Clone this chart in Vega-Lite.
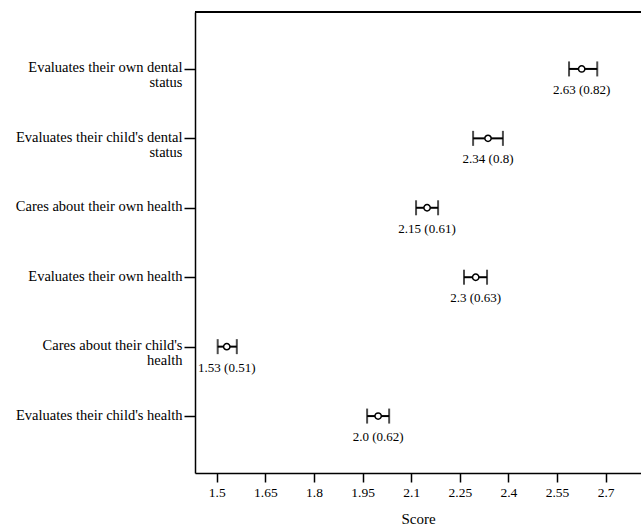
{
  "$schema": "https://vega.github.io/schema/vega-lite/v6.json",
  "width": 446,
  "height": 461,
  "autosize": {"type": "none"},
  "padding": {"left": 195, "top": 12, "right": 0, "bottom": 55},
  "background": "white",
  "config": {
    "view": {"stroke": null},
    "font": "Liberation Serif",
    "axis": {"labelFont": "Liberation Serif", "titleFont": "Liberation Serif", "labelColor": "black", "titleColor": "black", "domainColor": "black", "tickColor": "black", "grid": false}
  },
  "data": {
    "values": [
      {"item": "Evaluates their own dental|status", "mean": 2.626, "lo": 2.587, "hi": 2.674, "label": "2.63 (0.82)"},
      {"item": "Evaluates their child's dental|status", "mean": 2.337, "lo": 2.291, "hi": 2.383, "label": "2.34 (0.8)"},
      {"item": "Cares about their own  health", "mean": 2.149, "lo": 2.115, "hi": 2.183, "label": "2.15 (0.61)"},
      {"item": "Evaluates their own health", "mean": 2.299, "lo": 2.263, "hi": 2.334, "label": "2.3 (0.63)"},
      {"item": "Cares about their child's|health", "mean": 1.531, "lo": 1.503, "hi": 1.562, "label": "1.53 (0.51)"},
      {"item": "Evaluates their child's health", "mean": 1.998, "lo": 1.964, "hi": 2.032, "label": "2.0 (0.62)"}
    ]
  },
  "encoding": {
    "y": {
      "field": "item", "type": "nominal", "sort": null,
      "scale": {"type": "point", "padding": 0.82},
      "axis": {
        "title": null, "labelExpr": "split(datum.label, '|')", "labelFontSize": 14.5,
        "labelBaseline": "top", "labelOffset": -8, "labelLineHeight": 15, "labelPadding": 2,
        "tickSize": 11, "tickWidth": 1.5, "domainWidth": 1.5, "labelLimit": 300
      }
    }
  },
  "layer": [
    {
      "mark": {"type": "rule", "color": "black", "strokeWidth": 2},
      "encoding": {
        "x": {
          "field": "lo", "type": "quantitative",
          "scale": {"domain": [1.433, 2.809], "nice": false, "zero": false},
          "axis": {
            "title": "Score", "titleFontSize": 15, "titleFontWeight": "normal", "titlePadding": 13,
            "values": [1.5, 1.65, 1.8, 1.95, 2.1, 2.25, 2.4, 2.55, 2.7],
            "format": ".2~f", "labelFontSize": 13.5, "labelPadding": 3,
            "tickSize": 9, "tickWidth": 1.5, "domainWidth": 1.5
          }
        },
        "x2": {"field": "hi"}
      }
    },
    {
      "mark": {"type": "tick", "orient": "vertical", "color": "black", "thickness": 2, "size": 15},
      "encoding": {"x": {"field": "lo", "type": "quantitative"}}
    },
    {
      "mark": {"type": "tick", "orient": "vertical", "color": "black", "thickness": 2, "size": 15},
      "encoding": {"x": {"field": "hi", "type": "quantitative"}}
    },
    {
      "mark": {"type": "point", "shape": "circle", "filled": true, "fill": "white", "stroke": "black", "strokeWidth": 1.5, "size": 40, "opacity": 1},
      "encoding": {"x": {"field": "mean", "type": "quantitative"}}
    },
    {
      "mark": {"type": "text", "color": "black", "fontSize": 13, "dy": 21, "align": "center", "baseline": "middle"},
      "encoding": {"x": {"field": "mean", "type": "quantitative"}, "text": {"field": "label"}}
    },
    {
      "mark": {"type": "rule", "color": "black", "strokeWidth": 1.5},
      "encoding": {"y": {"value": 0}}
    }
  ]
}
